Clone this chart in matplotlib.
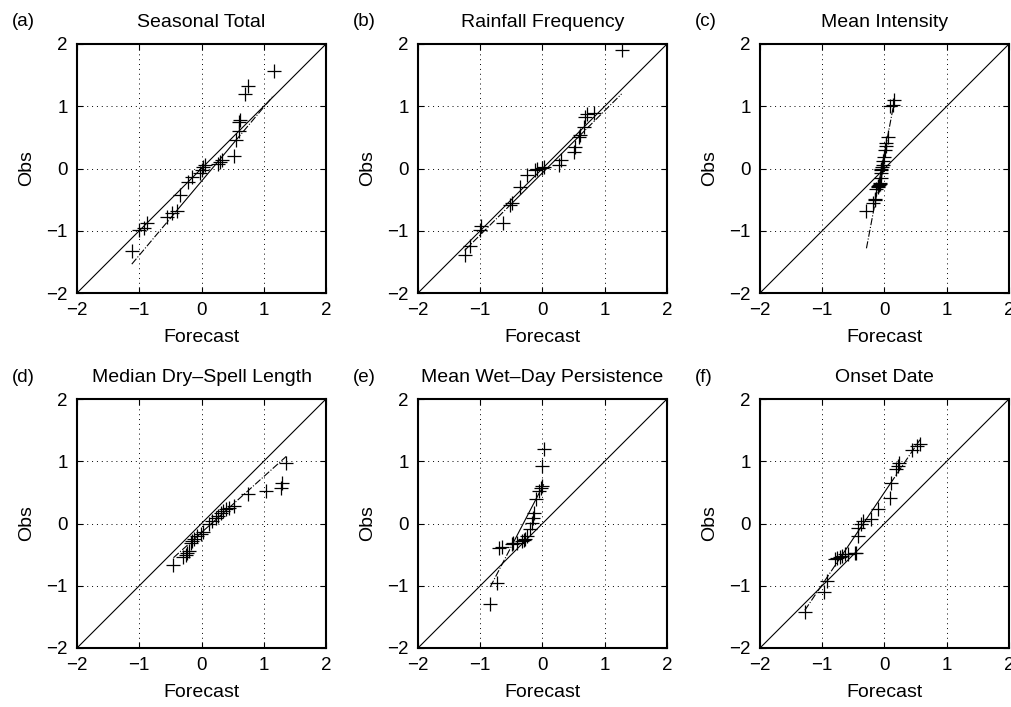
import numpy as np
import matplotlib.pyplot as plt

plt.rcParams['font.family'] = ['Liberation Sans', 'DejaVu Sans']

# quantile pairs (sorted forecast vs sorted obs), standardized anomalies
fc_total = [-1.12, -1.00, -0.93, -0.87, -0.55, -0.47, -0.40, -0.34, -0.22, -0.15, -0.02, 0.00, 0.02,
            0.05, 0.26, 0.29, 0.33, 0.52, 0.55, 0.60, 0.61, 0.62, 0.70, 0.74, 1.16]
ob_total = [-1.33, -0.98, -0.96, -0.87, -0.78, -0.72, -0.68, -0.42, -0.22, -0.14, -0.08, -0.03, 0.02,
            0.05, 0.07, 0.10, 0.14, 0.20, 0.45, 0.60, 0.74, 0.78, 1.20, 1.33, 1.57]

fc_freq = [-1.25, -1.17, -1.00, -0.98, -0.63, -0.52, -0.49, -0.36, -0.25, -0.12, -0.09, 0.00,
           0.02, 0.26, 0.29, 0.50, 0.53, 0.58, 0.61, 0.66, 0.69, 0.71, 0.83, 1.27]
ob_freq = [-1.39, -1.25, -0.98, -0.93, -0.88, -0.58, -0.56, -0.29, -0.10, -0.02, 0.00, 0.01,
           0.03, 0.06, 0.14, 0.27, 0.35, 0.51, 0.54, 0.67, 0.83, 0.88, 0.89, 1.91]

fc_int = [-0.29, -0.18, -0.16, -0.15, -0.13, -0.11, -0.10, -0.09, -0.08, -0.07, -0.06, -0.06, -0.05,
          -0.05, -0.04, -0.03, -0.02, 0.00, 0.01, 0.02, 0.03, 0.05, 0.09, 0.14, 0.16]
ob_int = [-0.69, -0.55, -0.51, -0.49, -0.33, -0.30, -0.28, -0.27, -0.25, -0.24, -0.15, -0.08, -0.03,
          0.00, 0.02, 0.05, 0.12, 0.19, 0.30, 0.36, 0.41, 0.51, 1.00, 1.02, 1.10]

fc_dry = [-0.45, -0.29, -0.25, -0.23, -0.20, -0.17, -0.15, -0.12, -0.07, -0.01, 0.02, 0.12, 0.17,
          0.23, 0.26, 0.31, 0.34, 0.39, 0.44, 0.52, 0.74, 1.03, 1.28, 1.29, 1.36]
ob_dry = [-0.66, -0.54, -0.50, -0.47, -0.44, -0.31, -0.28, -0.25, -0.20, -0.17, -0.14, -0.01, 0.04,
          0.09, 0.12, 0.17, 0.20, 0.23, 0.25, 0.28, 0.47, 0.52, 0.57, 0.65, 0.97]

fc_wet = [-0.84, -0.73, -0.70, -0.65, -0.49, -0.47, -0.41, -0.33, -0.30, -0.28, -0.25, -0.20, -0.17,
          -0.15, -0.13, -0.10, -0.05, -0.02, -0.01, -0.01, 0.02]
ob_wet = [-1.29, -0.96, -0.39, -0.38, -0.33, -0.31, -0.31, -0.28, -0.26, -0.25, -0.20, -0.09, 0.01,
          0.09, 0.17, 0.40, 0.52, 0.57, 0.60, 0.93, 1.20]

fc_onset = [-1.28, -0.97, -0.93, -0.80, -0.77, -0.71, -0.69, -0.63, -0.58, -0.47, -0.45, -0.42, -0.42,
            -0.37, -0.35, -0.21, -0.10, 0.09, 0.10, 0.18, 0.21, 0.24, 0.44, 0.52, 0.57]
ob_onset = [-1.42, -1.10, -0.92, -0.57, -0.56, -0.54, -0.52, -0.49, -0.49, -0.48, -0.47, -0.20, -0.07,
            -0.01, 0.04, 0.07, 0.23, 0.41, 0.65, 0.87, 0.92, 0.97, 1.18, 1.24, 1.27]

titles = ['Seasonal Total', 'Rainfall Frequency', 'Mean Intensity',
          'Median Dry\u2013Spell Length', 'Mean Wet\u2013Day Persistence', 'Onset Date']
letters = ['(a)', '(b)', '(c)', '(d)', '(e)', '(f)']
series = [(fc_total, ob_total), (fc_freq, ob_freq), (fc_int, ob_int),
          (fc_dry, ob_dry), (fc_wet, ob_wet), (fc_onset, ob_onset)]
ticks = [-2, -1, 0, 1, 2]

W, H = 1012, 707
fig = plt.figure(figsize=(W / 100, H / 100), dpi=100)

lefts = [77, 418, 760]
tops = [44, 399]
size = 249

for i, (fc, ob) in enumerate(series):
    row, col = divmod(i, 3)
    x0, y0 = lefts[col], tops[row]
    ax = fig.add_axes([x0 / W, 1 - (y0 + size) / H, size / W, size / H])
    fc = np.asarray(fc)
    ob = np.asarray(ob)

    # 1:1 reference line
    ax.plot([-2, 2], [-2, 2], color='black', lw=0.8)

    # quartile line (solid) extended to data range (dash-dot), like matlab qqplot
    q1x, q3x = np.percentile(fc, [25, 75])
    q1y, q3y = np.percentile(ob, [25, 75])
    slope = (q3y - q1y) / (q3x - q1x)
    line = lambda x: q1y + slope * (x - q1x)
    ax.plot([q1x, q3x], [line(q1x), line(q3x)], color='black', lw=0.8)
    ax.plot([fc.min(), q1x], [line(fc.min()), line(q1x)], color='black', lw=0.8, ls='-.')
    ax.plot([q3x, fc.max()], [line(q3x), line(fc.max())], color='black', lw=0.8, ls='-.')

    ax.plot(fc, ob, '+', color='black', ms=10.5, mew=0.9)

    ax.set_xlim(-2, 2)
    ax.set_ylim(-2, 2)
    ax.set_xticks(ticks)
    ax.set_yticks(ticks)
    ax.grid(True, ls=(0, (1, 4)), color='black', lw=0.7)
    ax.tick_params(direction='in', length=4, width=0.8, labelsize=13.5, pad=6.5,
                   top=True, right=True)
    for sp in ax.spines.values():
        sp.set_linewidth(1.5)
    ax.set_xlabel('Forecast', fontsize=14, labelpad=7)
    ax.set_ylabel('Obs', fontsize=14, labelpad=8)
    ax.set_title(titles[i], fontsize=14, pad=12)
    fig.text((x0 - 65) / W, 1 - (y0 - 22) / H, letters[i], fontsize=13.5, va='center', ha='left')

fig.savefig('out.png', dpi=100)
